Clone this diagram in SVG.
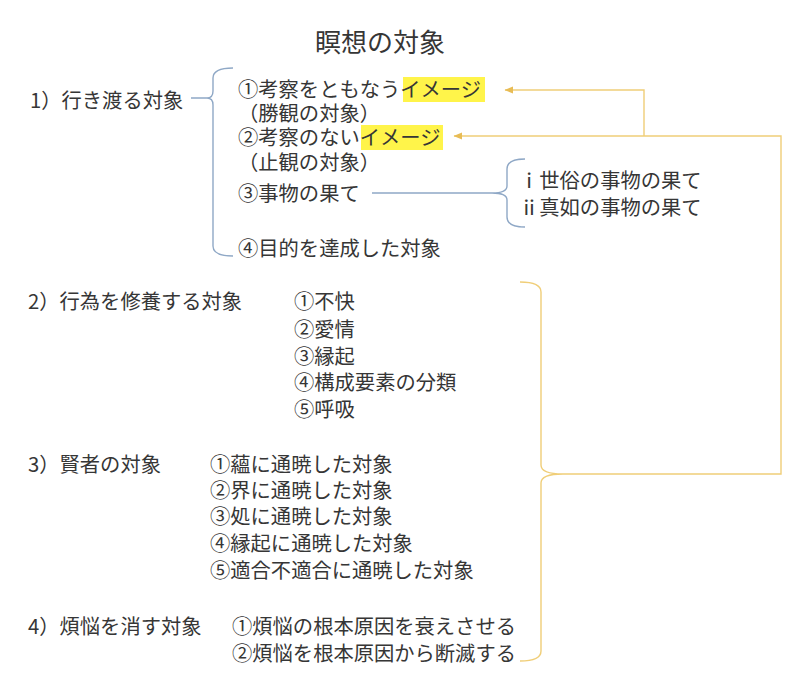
<svg xmlns="http://www.w3.org/2000/svg" width="806" height="695" viewBox="0 0 806 695">
<defs>
<style>
text{font-family:"Noto Sans CJK JP","Noto Sans CJK SC",sans-serif;fill:#363636;font-size:20.3px}
.title{font-size:26px}
.hl{fill:#FFF44A}
.blue{fill:none;stroke:#8FA8C6;stroke-width:1.4}
.yel{fill:none;stroke:#F0CE78;stroke-width:1.4}
</style>
<marker id="ah" markerWidth="9" markerHeight="8" refX="8" refY="4" orient="auto" markerUnits="userSpaceOnUse">
<path d="M0,0.5 L8.5,4 L0,7.5 z" fill="#E8BC55"/>
</marker>
</defs>
<rect width="806" height="695" fill="#fff"/>
<g id="title"><text class="title" x="380" y="52" text-anchor="middle">瞑想の対象</text></g>
<g id="section1">
<text x="30" y="108">1）行き渡る対象</text>
<rect class="hl" x="403" y="77" width="82" height="25"/>
<rect class="hl" x="361" y="125" width="82" height="25"/>
<text x="238" y="97">①考察をともなうイメージ</text>
<text x="238" y="121">（勝観の対象）</text>
<text x="238" y="145">②考察のないイメージ</text>
<text x="238" y="170">（止観の対象）</text>
<text x="238" y="201">③事物の果て</text>
<text x="238" y="256">④目的を達成した対象</text>
</g>
<g id="sub3">
<text x="519" y="188">ⅰ世俗の事物の果て</text>
<text x="519" y="215">ⅱ真如の事物の果て</text>
</g>
<g id="section2">
<text x="28" y="309">2）行為を修養する対象</text>
<text x="294" y="309">①不快</text>
<text x="294" y="337">②愛情</text>
<text x="294" y="364">③縁起</text>
<text x="294" y="390">④構成要素の分類</text>
<text x="294" y="417">⑤呼吸</text>
</g>
<g id="section3">
<text x="28" y="472">3）賢者の対象</text>
<text x="210" y="472">①蘊に通暁した対象</text>
<text x="210" y="498">②界に通暁した対象</text>
<text x="210" y="524">③処に通暁した対象</text>
<text x="210" y="551">④縁起に通暁した対象</text>
<text x="210" y="578">⑤適合不適合に通暁した対象</text>
</g>
<g id="section4">
<text x="28" y="634">4）煩悩を消す対象</text>
<text x="232" y="634">①煩悩の根本原因を衰えさせる</text>
<text x="232" y="661">②煩悩を根本原因から断滅する</text>
</g>
<g id="connectors">
<path class="blue" d="M191,98 H207 M233,68 Q213,68 213,78 V91 Q213,98 207,98 Q213,98 213,105 V246 Q213,256 233,256"/>
<path class="blue" d="M372,193 H492 M525,159 Q507,159 507,169 V186 Q507,193 492,193 Q507,193 507,200 V217 Q507,227 525,227"/>
<path class="yel" d="M520,282 Q541,282 541,292 V465 Q541,474 563,474 Q541,474 541,483 V651 Q541,661 520,661"/>
<path class="yel" d="M563,474 H781 V136 H454" marker-end="url(#ah)"/>
<path class="yel" d="M644,136 V90 H505" marker-end="url(#ah)"/>
</g>
</svg>
